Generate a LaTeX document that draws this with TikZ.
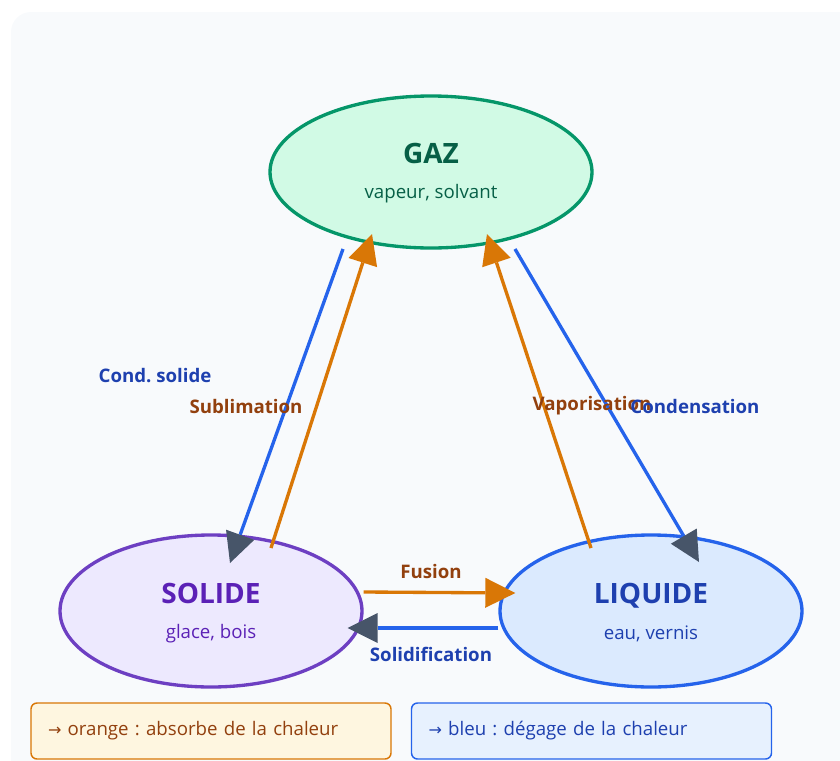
\documentclass[tikz,border=0pt]{standalone}
\usepackage{fontspec}
\setmainfont{Open Sans}
\newfontfamily\arrowfont{DejaVu Sans}
\usetikzlibrary{shapes.geometric, arrows.meta, calc}
\definecolor{bgc}{HTML}{F8FAFC}
\definecolor{gazfill}{HTML}{D1FAE5}
\definecolor{gazdraw}{HTML}{059669}
\definecolor{gaztext}{HTML}{065F46}
\definecolor{solfill}{HTML}{EDE9FE}
\definecolor{soldraw}{HTML}{6D3FC2}
\definecolor{soltext}{HTML}{5B21B6}
\definecolor{liqfill}{HTML}{DBEAFE}
\definecolor{liqdraw}{HTML}{2563EB}
\definecolor{liqtext}{HTML}{1E40AF}
\definecolor{blueC}{HTML}{2563EB}
\definecolor{slateC}{HTML}{475569}
\definecolor{orangeC}{HTML}{D97706}
\definecolor{brownC}{HTML}{92400E}
\definecolor{legO}{HTML}{FEF6E0}
\definecolor{legB}{HTML}{E7F1FE}
\frenchspacing
\tikzset{
  phase/.style={ellipse, line width=2.5pt, minimum width=226.5pt, minimum height=114pt, inner sep=0pt},
  title/.style={font=\fontsize{21}{24}\selectfont\bfseries},
  sub/.style={font=\fontsize{14}{16}\selectfont},
  lbl/.style={font=\fontsize{14}{16}\selectfont\bfseries},
  hot/.style={draw=orangeC, line width=2.5pt, -{Triangle[length=22.5pt,width=22.5pt,line width=0pt,color=orangeC]}},
  cold/.style={draw=blueC, line width=2.5pt, -{Triangle[length=22.5pt,width=22.5pt,line width=0pt,color=slateC]}},
  legbox/.style={rounded corners=4.5pt, line width=1.1pt, minimum height=42pt, text width=244.5pt, inner xsep=12.75pt, align=left, font=\fontsize{14}{16}\selectfont}
}
\begin{document}
\begin{tikzpicture}[x=0.75pt,y=-0.75pt]
\useasboundingbox (0,0) rectangle (840,761);
\clip (0,0) rectangle (840,761);
\fill[bgc, rounded corners=15pt] (11,12) rectangle (880,800);

% phases
\node[phase, draw=gazdraw, fill=gazfill, minimum width=241.5pt] (gaz) at (431,172) {};
\node[phase, draw=soldraw, fill=solfill] (sol) at (211,611) {};
\node[phase, draw=liqdraw, fill=liqfill] (liq) at (651,611) {};

\node[title, text=gaztext] (gazt) at ($(gaz.center)+(0,-19)$) {GAZ};
\node[sub, text=gaztext] (gazs) at ($(gaz.center)+(0,22)$) {vapeur, solvant};
\node[title, text=soltext] (solt) at ($(sol.center)+(0,-18)$) {SOLIDE};
\node[sub, text=soltext] (sols) at ($(sol.center)+(0,23)$) {glace, bois};
\node[title, text=liqtext] (liqt) at ($(liq.center)+(0,-15)$) {LIQUIDE};
\node[sub, text=liqtext] (liqs) at ($(liq.center)+(0,23)$) {eau, vernis};

% connector end points
\coordinate (cs1) at ($(gaz.center)+(-88,77)$);
\coordinate (cs2) at ($(sol.center)+(19,-48)$);
\coordinate (sb1) at ($(sol.center)+(60,-63)$);
\coordinate (sb2) at ($(gaz.center)+(-59,62)$);
\coordinate (vp1) at ($(liq.center)+(-60,-63)$);
\coordinate (vp2) at ($(gaz.center)+(56,62)$);
\coordinate (cd1) at ($(gaz.center)+(84,77)$);
\coordinate (cd2) at ($(liq.center)+(48,-49)$);
\coordinate (fu1) at ($(sol.east)+(0,-19)$);
\coordinate (fu2) at ($(liq.west)+(17,-18)$);
\coordinate (so1) at ($(liq.west)+(0,17)$);
\coordinate (so2) at ($(sol.east)+(-16,17)$);

\draw[cold] (cs1) -- (cs2);
\draw[hot] (sb1) -- (sb2);
\draw[hot] (vp1) -- (vp2);
\draw[cold] (cd1) -- (cd2);
\draw[hot] (fu1) -- (fu2);
\draw[cold] (so1) -- (so2);

% labels
\node[lbl, text=liqtext] (lcs) at (155,376) {Cond. solide};
\node[lbl, text=brownC] (lsb) at (246,406) {Sublimation};
\node[lbl, text=brownC] (lvp) at (592,406) {Vaporisation};
\node[lbl, text=liqtext] (lcd) at (695,406) {Condensation};
\node[lbl, text=brownC] (lfu) at (431,571) {Fusion};
\node[lbl, text=liqtext] (lso) at (431,654) {Solidification};

% legend
\node[legbox, draw=orangeC, fill=legO, text=brownC] (lego) at (211,731) {{\arrowfont\fontsize{12}{14}\selectfont →} orange : absorbe de la chaleur};
\node[legbox, draw=blueC, fill=legB, text=liqtext] (legb) at (591.5,731) {{\arrowfont\fontsize{12}{14}\selectfont →} bleu : dégage de la chaleur};
\end{tikzpicture}
\end{document}
